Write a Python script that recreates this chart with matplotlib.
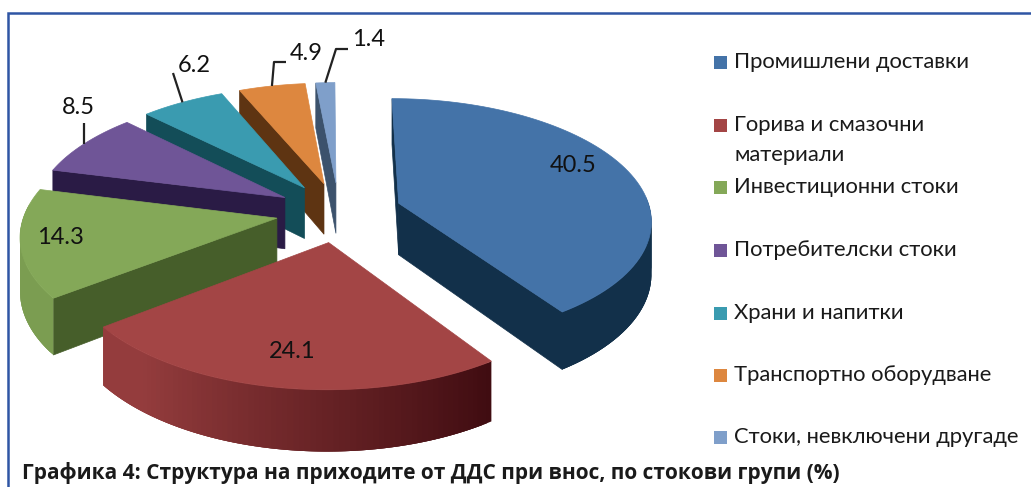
import numpy as np
import matplotlib
matplotlib.use("Agg")
import matplotlib.pyplot as plt
from matplotlib.patches import Polygon, Rectangle

plt.rcParams['font.family'] = ['Lato', 'DejaVu Sans']

categories = ["Промишлени доставки", "Горива и смазочни\nматериали", "Инвестиционни стоки",
              "Потребителски стоки", "Храни и напитки", "Транспортно оборудване",
              "Стоки, невключени другаде"]
shares = [40.5, 24.1, 14.3, 8.5, 6.2, 4.9, 1.4]
top_colors = ["#4473a8", "#a34545", "#84a858", "#6f5597", "#3a9bb0", "#dd873f", "#7f9fca"]
cut_colors = ["#12304a", "#400c11", "#465e2a", "#2a1b45", "#134d58", "#5e3412", "#3c526c"]
title = "Графика 4: Структура на приходите от ДДС при внос, по стокови групи (%)"

# pie geometry, in pixels of the reference
CX, CY = 339, 212
A, B, K = 252, 120, 0.127
DEPTH = 52
EXPLODE = 0.25

label_pos = [(573, 166), (292, 351), (60, 238), (78, 108), (194, 65), (306, 54), (369, 39)]
legend_y = [62, 125, 187, 250, 313, 375, 437]


def project(u, v):
    s = 1 + K * v
    return CX + A * u / s, CY - B * v / s


def bottom(pt, v):
    return pt[0], pt[1] + DEPTH / (1 + K * v)


def rim_color(i, theta):
    f = np.clip((theta - 146) / 86, 0, 0.85)
    dark = np.array(matplotlib.colors.to_rgb(cut_colors[i]))
    light = np.array(matplotlib.colors.to_rgb(top_colors[i]))
    return tuple(dark + (light - dark) * f)


fig = plt.figure(figsize=(10.31, 4.87), dpi=100)
ax = fig.add_axes([0, 0, 1, 1])
ax.set_xlim(0, 1031)
ax.set_ylim(487, 0)
ax.axis("off")

# frame
ax.plot([1031, 7.5, 7.5], [12.5, 12.5, 487], color="#2f55a4", lw=1.8, solid_joinstyle="miter")

edges = np.cumsum([0] + shares) / 100 * 360

# back slices first so the front ones cover them
for i in [6, 5, 4, 3, 0, 2, 1]:
    t0, t1 = edges[i], edges[i + 1]
    mid = np.radians((t0 + t1) / 2)
    eu, ev = EXPLODE * np.sin(mid), EXPLODE * np.cos(mid)
    thetas = np.linspace(t0, t1, 80)
    us = eu + np.sin(np.radians(thetas))
    vs = ev + np.cos(np.radians(thetas))
    arc = [project(u, v) for u, v in zip(us, vs)]
    apex = project(eu, ev)
    apex_b = bottom(apex, ev)

    # cut faces, only those turned to the viewer
    if np.sin(np.radians(t0)) <= 1e-9:
        ax.add_patch(Polygon([arc[0], apex, apex_b, bottom(arc[0], vs[0])],
                             fc=cut_colors[i], ec=cut_colors[i], lw=0.5))
    if np.sin(np.radians(t1)) > 0:
        ax.add_patch(Polygon([arc[-1], apex, apex_b, bottom(arc[-1], vs[-1])],
                             fc=cut_colors[i], ec=cut_colors[i], lw=0.5))

    # outer wall, overlapping strips for the shading so no seams show
    for j in range(len(thetas) - 1):
        if 85 < thetas[j] < 275:
            k = min(j + 3, len(thetas) - 1)
            strip = arc[j:k + 1] + [bottom(arc[n], vs[n]) for n in range(k, j - 1, -1)]
            ax.add_patch(Polygon(strip, fc=rim_color(i, thetas[j]), ec="none"))

    ax.add_patch(Polygon([apex] + arc, fc=top_colors[i], ec=top_colors[i], lw=0.5))

# values
for val, pos in zip(shares, label_pos):
    ax.text(pos[0], pos[1], f"{val}", fontsize=17, color="#111111", ha="center", va="center")

# leader lines for the outside labels
for i, lx, ly in [(3, 83, 123), (4, 173, 73), (5, 286, 62), (6, 348, 49)]:
    mid = np.radians((edges[i] + edges[i + 1]) / 2)
    px, py = project((EXPLODE + 1) * np.sin(mid), (EXPLODE + 1) * np.cos(mid))
    xs, ys = [lx, px], [ly, py]
    if i == 3:
        xs = [px, px]
    if i >= 5:
        xs = [lx, lx - 12, px]
        ys = [ly, ly, py]
    ax.plot(xs, ys, color="#222222", lw=1.6, solid_capstyle="butt")

# legend
for name, color, y in zip(categories, top_colors, legend_y):
    ax.add_patch(Rectangle((714, y - 6.5), 13, 13, fc=color, ec="none"))
    ax.text(734, y + 15 if "\n" in name else y, name, fontsize=15.8, color="#1a1a1a", ha="left",
            va="center", linespacing=1.67)

ax.text(22, 473, title, fontsize=15, fontweight="bold", color="#1a1a1a", ha="left", va="center",
        family=["Open Sans", "DejaVu Sans"])

fig.savefig("out.png", dpi=100)
